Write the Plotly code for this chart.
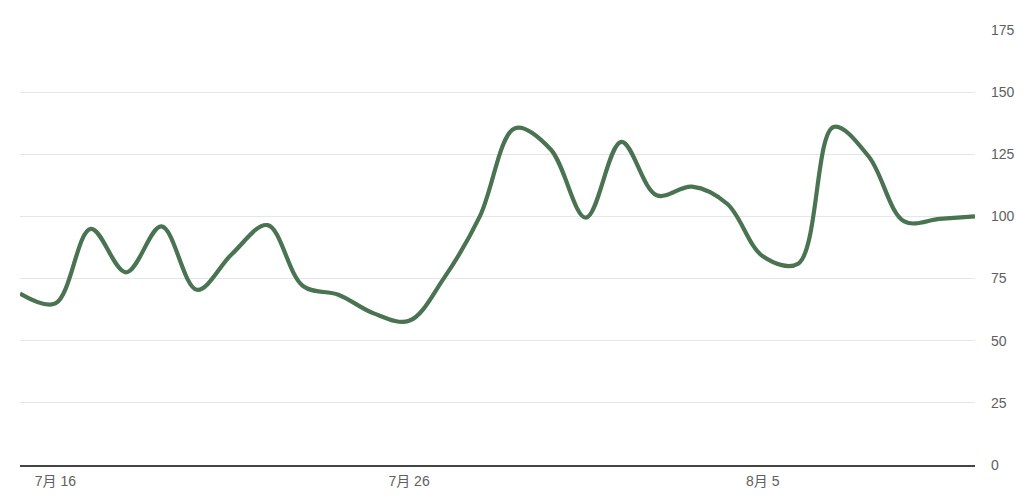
import pandas as pd
import plotly.graph_objects as go

# daily values, 15 Jul -> 11 Aug
dates = pd.date_range("2024-07-15", "2024-08-11", freq="D")
values = [69, 65, 95, 77.5, 96, 70.5, 85, 96.5, 72, 68.5,
          61, 58, 75.5, 100, 135.5, 127, 99.5, 130, 108.5, 112,
          105, 84, 81, 136, 124, 98, 99, 100]

tick_dates = ["2024-07-16", "2024-07-26", "2024-08-05"]
tick_labels = ["7月 16", "7月 26", "8月 5"]
y_ticks = [0, 25, 50, 75, 100, 125, 150, 175]

fig = go.Figure()
fig.add_trace(go.Scatter(
    x=dates, y=values,
    mode="lines",
    line=dict(color="#4a7352", width=4.2, shape="spline", smoothing=1),
    hoverinfo="x+y",
    showlegend=False,
))

# page body has an 8px margin, so offsets are trimmed to land the plot at 20..975
fig.update_layout(
    width=1024, height=502,
    margin=dict(l=12, r=57, t=22, b=45),
    paper_bgcolor="white", plot_bgcolor="white",
    font=dict(family="Liberation Sans, Noto Sans CJK JP, sans-serif", size=14, color="#606060"),
)

fig.update_xaxes(
    range=[dates[0], dates[-1]],
    tickvals=tick_dates, ticktext=tick_labels,
    showgrid=False, zeroline=False,
    showline=True, linecolor="#444444", linewidth=1.5,
    ticks="", ticklabelstandoff=2,
)

fig.update_yaxes(
    range=[0, 175], side="right",
    tickvals=y_ticks,
    showgrid=True, gridcolor="#e6e6e6", gridwidth=1,
    zeroline=False, showline=False,
    ticks="", ticklabelstandoff=15,
)

fig.write_html("out.html")
